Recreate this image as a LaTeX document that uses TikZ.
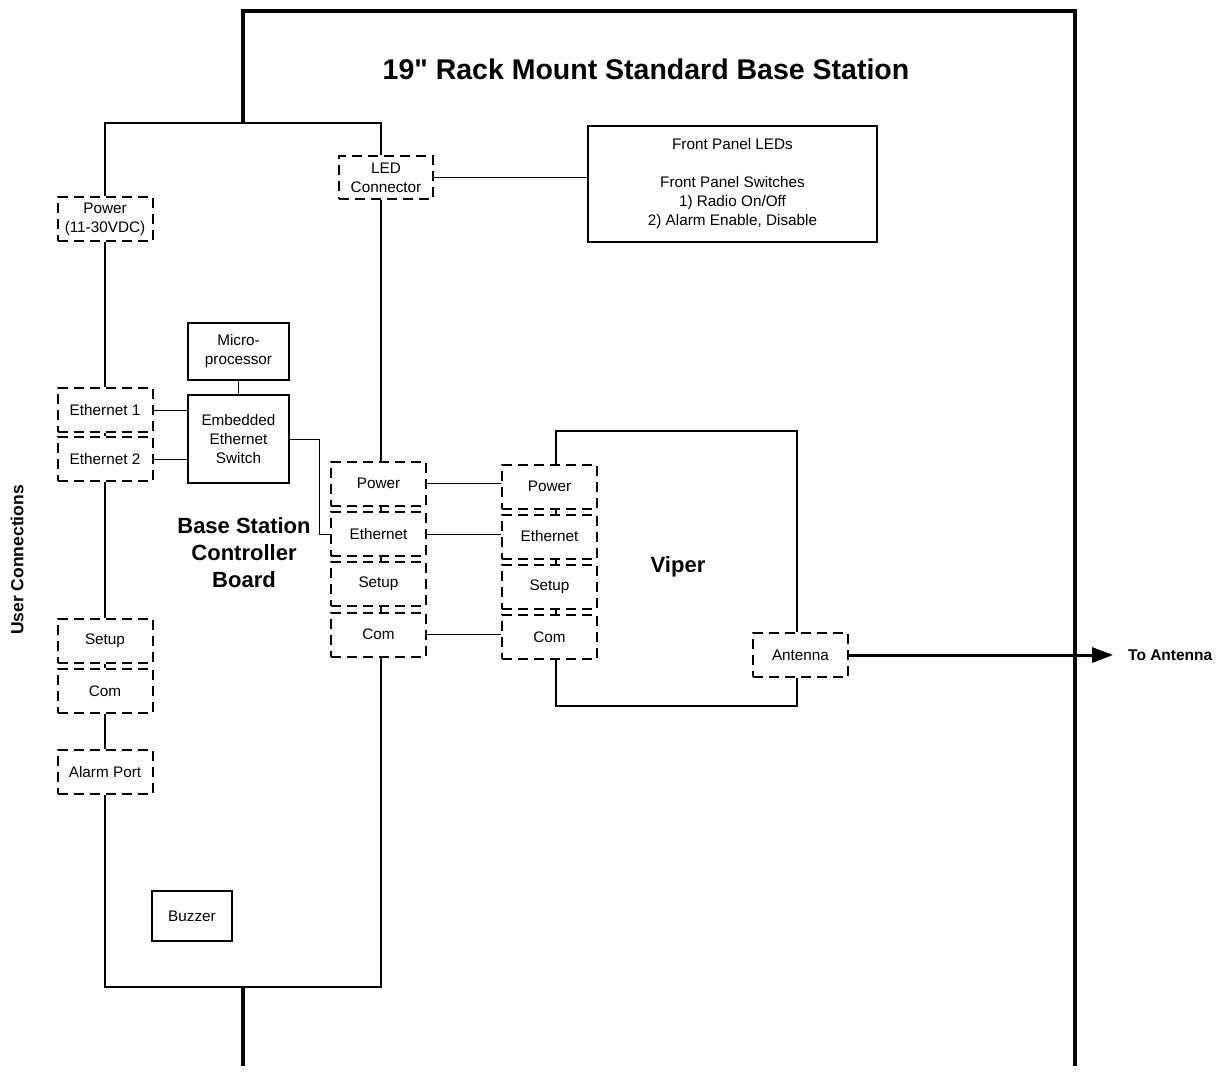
\documentclass[tikz,border=0pt]{standalone}
\usepackage{fontspec}
\setmainfont{Liberation Sans}
\newfontfamily\titlefont{Liberation Sans}
\usetikzlibrary{arrows.meta}
\begin{document}
\begin{tikzpicture}[x=1pt,y=-1pt,
  every node/.style={font=\fontsize{15.3}{19}\selectfont, align=center, inner sep=0pt},
  port/.style={draw, fill=white, dashed, dash pattern=on 10pt off 6pt, line width=2pt, minimum width=95pt, minimum height=44pt},
  solidbox/.style={draw, fill=white, line width=1.5pt},
  thin/.style={line width=1.5pt},
  wire/.style={line width=1pt},
  rack/.style={line width=4.5pt},
  lbl/.style={font=\bfseries\fontsize{22}{27}\selectfont}
]
\useasboundingbox (0,0) rectangle (1225,1076);
% rack outline
\coordinate (rBL) at (243,1066);
\coordinate (rTL) at (243,11);
\coordinate (rTR) at (1075,11);
\coordinate (rBR) at (1075,1066);
\draw[rack] (rBL) -- (rTL) -- (rTR) -- (rBR);
\node[font=\titlefont\bfseries\fontsize{28.5}{34}\selectfont] (title) at (646,69) {19" Rack Mount Standard Base Station};

% board background
\coordinate (bTL) at (105,123);
\coordinate (bTR) at (381,123);
\coordinate (bBL) at (105,987);
\coordinate (bBR) at (381,987);
\fill[white] (bTL) rectangle (bBR);

% controller board ports (left)
\node[port] (pwr) at (105,219) {Power\\(11-30VDC)};
\node[port] (eth1) at (105,410) {Ethernet 1};
\node[port] (eth2) at (105,459) {Ethernet 2};
\node[port] (setL) at (105,641) {Setup};
\node[port] (comL) at (105,691) {Com};
\node[port] (alarm) at (105,772) {Alarm Port};

% LED connector & front panel
\node[port, minimum width=94pt, minimum height=43pt] (led) at (386,177.5) {LED\\Connector};
\node[solidbox, minimum width=289pt, minimum height=116pt] (fp) at (732.5,184)
  {Front Panel LEDs\\[19pt]Front Panel Switches\\1) Radio On/Off\\2) Alarm Enable, Disable};

% micro & switch
\node[solidbox, minimum width=101pt, minimum height=57pt] (micro) at (238.5,351.5) {Micro-\\processor};
\node[solidbox, minimum width=101pt, minimum height=88pt] (sw) at (238.5,439) {Embedded\\Ethernet\\Switch};
\node[solidbox, minimum width=80pt, minimum height=50pt] (buzz) at (192,916) {Buzzer};

% controller right ports
\node[port] (cP) at (378.5,483.5) {Power};
\node[port] (cE) at (378.5,534) {Ethernet};
\node[port] (cS) at (378.5,584) {Setup};
\node[port] (cC) at (378.5,634.5) {Com};

% viper ports
\node[port] (vP) at (549.5,486.5) {Power};
\node[port] (vE) at (549.5,536.5) {Ethernet};
\node[port] (vS) at (549.5,587) {Setup};
\node[port] (vC) at (549.5,637) {Com};
\node[port] (ant) at (800.5,655) {Antenna};

% labels
\node[lbl] (bscb) at (244,553) {Base Station\\Controller\\Board};
\node[lbl] (viper) at (678,567) {Viper};
\node[font=\bfseries\fontsize{17.5}{20}\selectfont, rotate=90] (user) at (17,560) {User Connections};
\node[font=\bfseries\fontsize{15.5}{19}\selectfont, anchor=west] (toant) at (1128,655) {To Antenna};
\coordinate (tip) at (1113,655);

% board outline
\coordinate (cx) at (381,0);
\draw[thin] (pwr.north) |- (bTR) -- (led.north -| cx);
\draw[thin] (pwr.south) -- (eth1.north);
\draw[thin] (eth1.south) -- (eth2.north);
\draw[thin] (eth2.south) -- (setL.north);
\draw[thin] (setL.south) -- (comL.north);
\draw[thin] (comL.south) -- (alarm.north);
\draw[thin] (alarm.south) -- (bBL) -- (bBR) -- (cC.south -| cx);
\draw[thin] (led.south -| cx) -- (cP.north -| cx);
\draw[thin] (cP.south -| cx) -- (cE.north -| cx);
\draw[thin] (cE.south -| cx) -- (cS.north -| cx);
\draw[thin] (cS.south -| cx) -- (cC.north -| cx);

% viper outline
\coordinate (vx) at (556,0);
\coordinate (ax) at (797,0);
\coordinate (vTL) at (556,431);
\coordinate (vTR) at (797,431);
\coordinate (vBL) at (556,706);
\coordinate (vBR) at (797,706);
\draw[thin] (vP.north -| vx) -- (vTL) -- (vTR) -- (ant.north -| ax);
\draw[thin] (ant.south -| ax) -- (vBR) -- (vBL) -- (vC.south -| vx);
\draw[thin] (vP.south -| vx) -- (vE.north -| vx);
\draw[thin] (vE.south -| vx) -- (vS.north -| vx);
\draw[thin] (vS.south -| vx) -- (vC.north -| vx);

% wires
\draw[wire] (led.east) -- (fp.west |- led.east);
\draw[wire] (micro.south) -- (sw.north);
\draw[wire] (eth1.east) -- (sw.west |- eth1.east);
\draw[wire] (eth2.east) -- (sw.west |- eth2.east);
\coordinate (jx) at (319,0);
\draw[wire] (sw.east) -| (jx |- cE.west) -- (cE.west);
\draw[wire] (cP.east) -- (vP.west |- cP.east);
\draw[wire] (cE.east) -- (vE.west |- cE.east);
\draw[wire] (cC.east) -- (vC.west |- cC.east);

% antenna out
\draw[line width=3pt, -{Triangle[length=21pt,width=15pt]}] (ant.east) -- (tip);
\end{tikzpicture}
\end{document}
